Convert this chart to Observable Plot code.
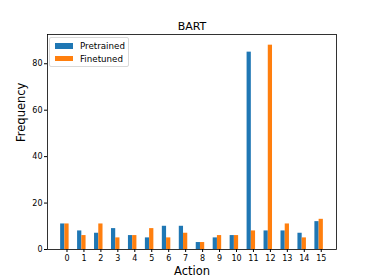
<!DOCTYPE html>
<html>
<head>
<meta charset="utf-8">
<script src="https://cdn.jsdelivr.net/npm/d3@7"></script>
<script src="https://cdn.jsdelivr.net/npm/@observablehq/plot@0.6"></script>
<style>
  html, body { margin: 0; padding: 0; background: #fff; }
  #wrap { position: relative; width: 374px; height: 280px; font-family: "DejaVu Sans", sans-serif; }
  #legend { position: absolute; left: 49px; top: 37px; width: 78px; height: 28px; border: 1px solid #d9d9d9; border-radius: 2px; background: rgba(255,255,255,0.8); font-size: 8.7px; color: #000; }
  .item { position: absolute; left: 5px; display: flex; align-items: center; height: 10px; }
  .sw { width: 18px; height: 5.5px; margin-right: 7px; flex: none; }
</style>
</head>
<body>
<div id="wrap"></div>
<script>
const actions = [0,1,2,3,4,5,6,7,8,9,10,11,12,13,14,15];
const pretrained = [11,8,7,9,6,5,10,10,3,5,6,85,8,8,7,12];
const finetuned = [11,6,11,5,6,9,5,7,3,6,6,8,88,11,5,13];
const seriesNames = ["Pretrained", "Finetuned"];
const seriesColors = ["#1f77b4", "#ff7f0e"];
const yTicks = [0,20,40,60,80];

const barW = 0.25;
const data = [];
actions.forEach((a, i) => {
  data.push({action: a, series: seriesNames[0], value: pretrained[i], offset: -0.25});
  data.push({action: a, series: seriesNames[1], value: finetuned[i], offset: 0});
});

const chart = Plot.plot({
  width: 374,
  height: 280,
  marginLeft: 47,
  marginRight: 38,
  marginTop: 34,
  marginBottom: 31,
  style: {fontFamily: "DejaVu Sans, sans-serif", fontSize: "8px", color: "#000", background: "#fff"},
  x: {domain: [-1.15, 15.9], ticks: actions, tickFormat: d => String(d), tickSize: 3, tickPadding: 3, label: null},
  y: {domain: [0, 92.6], ticks: yTicks, tickSize: 3, tickPadding: 2, label: null},
  color: {domain: seriesNames, range: seriesColors},
  marks: [
    Plot.rectY(data, {
      x1: d => d.action + d.offset - barW / 2,
      x2: d => d.action + d.offset + barW / 2,
      y1: 0,
      y2: "value",
      fill: "series"
    }),
    Plot.frame({stroke: "#000", strokeWidth: 0.8}),
    Plot.text(["BART"], {frameAnchor: "top", lineAnchor: "middle", dy: -8.3, fontSize: 11, text: d => d}),
    Plot.text(["Action"], {frameAnchor: "bottom", lineAnchor: "middle", dy: 21.5, fontSize: 11.5, text: d => d}),
    Plot.text(["Frequency"], {frameAnchor: "left", dx: -26, rotate: -90, fontSize: 11.5, text: d => d})
  ]
});
document.getElementById("wrap").appendChild(chart);

const legend = document.createElement("div");
legend.id = "legend";
seriesNames.forEach((name, i) => {
  const item = document.createElement("div");
  item.className = "item";
  item.style.top = (3 + i * 12.7) + "px";
  const sw = document.createElement("span");
  sw.className = "sw";
  sw.style.background = seriesColors[i];
  item.appendChild(sw);
  item.appendChild(document.createTextNode(name));
  legend.appendChild(item);
});
document.getElementById("wrap").appendChild(legend);
</script>
</body>
</html>
